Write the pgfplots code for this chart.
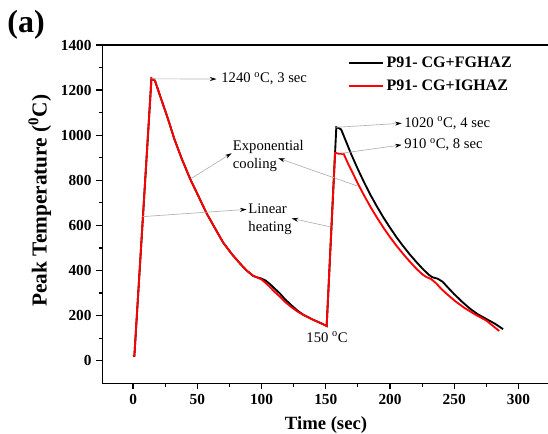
\documentclass[border=0pt]{standalone}
\usepackage{pgfplots}
\pgfplotsset{compat=1.18}
\usepackage{fontspec}
\setmainfont{Liberation Serif}
\usetikzlibrary{arrows.meta}
\begin{document}
\begin{tikzpicture}
\begin{axis}[
  scale only axis, width=334.3pt, height=253.7pt,
  xmin=-24, xmax=323, ymin=-100, ymax=1400,
  axis x line*=box, axis y line*=left,
  xtick pos=left, ytick pos=left,
  axis line style={line width=1.1pt},
  every tick/.style={black, line width=0.9pt},
  tick align=outside, major tick length=4.5pt, minor tick length=2.5pt,
  xtick={0,50,...,300}, minor x tick num=1,
  ytick={0,200,...,1400}, minor y tick num=1,
  /pgf/number format/assume math mode=true,
  /pgf/number format/1000 sep={},
  ticklabel style={font=\fontsize{11.5}{13}\selectfont\bfseries},
  xlabel={Time (sec)},
  ylabel={Peak Temperature (\textsuperscript{0}C)},
  xlabel style={font=\fontsize{14}{16}\selectfont\bfseries, at={(rel axis cs:0.502,-0.123)}, anchor=center},
  ylabel style={font=\fontsize{16}{18}\selectfont\bfseries, at={(rel axis cs:-0.14,0.54)}, anchor=center},
  clip=false,
  legend style={at={(axis cs:166.8,1362)}, anchor=north west, draw=none, fill=none,
    inner sep=0pt, row sep=4pt, font=\fontsize{12}{14}\selectfont\bfseries, cells={anchor=west}},
  lgd/.style={legend image code/.code={\draw[##1] (0pt,0pt) -- (25.8pt,0pt);}},
]
\coordinate (SW) at (rel axis cs:0,0);
\coordinate (NE) at (rel axis cs:1,1);

\addplot[black, line width=1.4pt, lgd] coordinates {
(0,20) (1,22) (14.3,1252) (17,1242) (22,1158) (27,1075) (32,985) (37.7,898) (44.2,809) (50,740) (57.2,654) (63.5,590) (70.1,524) (77,472) (83.1,432) (88,402) (93.5,376) (97,369) (100,364) (103,356) (106.5,340) (110,321) (114.3,298) (118,274) (123.4,245) (128,222) (132.5,204) (140,182) (146,167) (150.7,154)
(158.2,1035) (160,1032) (162,1025) (165,983) (170,913) (175,849) (180,789) (185,733) (190,682) (195,634) (200,590) (205,548) (210,510) (215,474) (220,441) (225,410) (230,382) (233,370) (237,364) (241,350) (245,325) (250,295) (256,262) (262,232) (268,207) (275,185) (282,163) (288,140)
};
\addlegendentry{P91- CG+FGHAZ}
\addplot[red, line width=1.4pt, lgd] coordinates {
(0,20) (1,22) (14.3,1252) (17,1242) (22,1158) (27,1075) (32,985) (37.7,898) (44.2,809) (50,740) (57.2,654) (63.5,590) (70.1,524) (77,472) (83.1,432) (88,402) (93.5,376) (97,368) (100,360) (103,346) (106.5,327) (110,306) (114.3,284) (118,262) (123.4,237) (128,218) (132.5,203) (140,182) (146,167) (150.7,154)
(157.2,922) (160,918) (164,917) (167,878) (170,844) (175,785) (180,731) (185,680) (190,633) (195,589) (200,548) (205,510) (210,475) (215,442) (220,411) (225,384) (228,372) (232,362) (236,343) (240,318) (245,292) (251,263) (258,234) (266,206) (275,178) (285,132)
};
\addlegendentry{P91- CG+IGHAZ}

\tikzset{ann/.style={gray!60, line width=0.5pt, -{Stealth[black, length=5pt, width=3pt]}},
         atext/.style={font=\fontsize{11}{13.7}\selectfont, inner sep=0pt}}
\draw[ann] (axis cs:14.5,1250) -- (axis cs:65,1249);
\node[atext, anchor=west] at (axis cs:68.5,1249) {1240 \textsuperscript{o}C, 3 sec};
\draw[ann] (axis cs:158.2,1035) -- (axis cs:209.1,1053);
\node[atext, anchor=west] at (axis cs:211,1053) {1020 \textsuperscript{o}C, 4 sec};
\draw[ann] (axis cs:162.4,920) -- (axis cs:209.1,957);
\node[atext, anchor=west] at (axis cs:211,957) {910 \textsuperscript{o}C, 8 sec};
\node[atext, anchor=west, align=left] at (axis cs:77.5,909) {Exponential\\cooling};
\draw[ann] (axis cs:45.5,809) -- (axis cs:76.7,920);
\draw[ann] (axis cs:174.5,775) -- (axis cs:113,898);
\node[atext, anchor=west, align=left] at (axis cs:89.6,629) {Linear\\heating};
\draw[ann] (axis cs:7.5,639) -- (axis cs:88.4,671);
\draw[ann] (axis cs:153.3,594) -- (axis cs:123.4,631);
\node[atext] at (axis cs:151,105) {150 \textsuperscript{o}C};
\node[font=\fontsize{24}{28}\selectfont\bfseries] at (rel axis cs:-0.171,1.059) {(a)};
\end{axis}
\pgfresetboundingbox
\path[use as bounding box] ([shift={(-76.7pt,-38.0pt)}]SW) rectangle ([shift={(0pt,33.75pt)}]NE);
\end{tikzpicture}
\end{document}
